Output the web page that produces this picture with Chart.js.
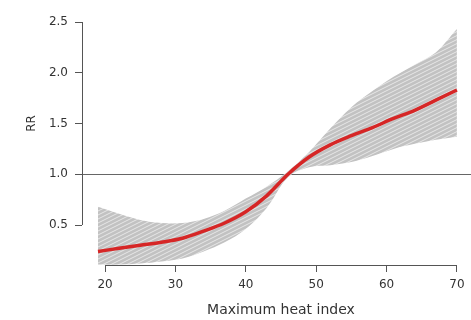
<!DOCTYPE html>
<html>
<head>
<meta charset="utf-8">
<script src="https://cdn.jsdelivr.net/npm/chart.js@4"></script>
<style>
html,body{margin:0;padding:0;background:#fff;}
#wrap{width:471px;height:320px;position:relative;}
</style>
</head>
<body>
<div id="wrap"><canvas id="c" width="471" height="320"></canvas></div>
<script>
// ---- data ----
const heatIndex = [19,22,25,28,31,34,37,40,43,46,49,52,55,58,61,64,67,70];
const rr        = [0.24,0.27,0.30,0.33,0.37,0.44,0.52,0.63,0.79,1.00,1.17,1.29,1.38,1.46,1.55,1.63,1.73,1.83];
const rrUpper   = [0.68,0.61,0.55,0.52,0.52,0.56,0.64,0.76,0.88,1.03,1.22,1.45,1.66,1.82,1.96,2.08,2.20,2.43];
const rrLower   = [0.11,0.11,0.12,0.14,0.17,0.24,0.33,0.46,0.67,0.97,1.07,1.09,1.12,1.18,1.25,1.30,1.34,1.37];
const xTicks = [20,30,40,50,60,70];
const xTickLabels = ['20','30','40','50','60','70'];
const yTicks = [0.5,1.0,1.5,2.0,2.5];
const yTickLabels = ['0.5','1.0','1.5','2.0','2.5'];
const refLine = 1.0;
const xTitle = 'Maximum heat index';
const yTitle = 'RR';

// ---- styles ----
const AX = '#555';
const TXT = '#333';
const FONT = 'DejaVu Sans';

function hatch(){
  const p = document.createElement('canvas');
  p.width = 8; p.height = 4;
  const g = p.getContext('2d');
  g.fillStyle = '#c2c2c2';
  g.fillRect(0,0,8,4);
  g.strokeStyle = 'rgba(255,255,255,0.75)';
  g.lineWidth = 0.8;
  g.beginPath();
  g.moveTo(-8,8); g.lineTo(8,0);
  g.moveTo(0,8); g.lineTo(16,0);
  g.moveTo(-8,4); g.lineTo(8,-4);
  g.stroke();
  return g.createPattern(p,'repeat');
}
const ctx = document.getElementById('c').getContext('2d');
const pat = hatch();

const pts = arr => heatIndex.map((x,i)=>({x:x,y:arr[i]}));

const axesPlugin = {
  id:'rAxes',
  beforeDatasetsDraw(chart){
    const c = chart.ctx, a = chart.chartArea, ys = chart.scales.y;
    c.save();
    c.strokeStyle = '#666'; c.lineWidth = 1;
    const y = Math.round(ys.getPixelForValue(refLine))+0.5;
    c.beginPath(); c.moveTo(a.left,y); c.lineTo(a.right,y); c.stroke();
    c.restore();
  },
  afterDraw(chart){
    const c = chart.ctx, a = chart.chartArea, xs = chart.scales.x, ys = chart.scales.y;
    c.save();
    c.strokeStyle = AX; c.lineWidth = 1;
    const by = Math.round(a.bottom)+0.5;
    c.beginPath();
    c.moveTo(xs.getPixelForValue(xTicks[0]),by);
    c.lineTo(xs.getPixelForValue(xTicks[xTicks.length-1]),by);
    c.stroke();
    const lx = Math.round(a.left)+0.5;
    c.beginPath();
    c.moveTo(lx,ys.getPixelForValue(yTicks[0]));
    c.lineTo(lx,ys.getPixelForValue(yTicks[yTicks.length-1]));
    c.stroke();
    // titles
    c.fillStyle = TXT;
    c.textAlign = 'center'; c.textBaseline = 'middle';
    c.font = '14px "' + FONT + '"';
    const xm = (xs.getPixelForValue(xTicks[0]) + xs.getPixelForValue(xTicks[xTicks.length-1]))/2;
    c.fillText(xTitle, xm, 310);
    c.font = '12px "' + FONT + '"';
    const ym = (ys.getPixelForValue(yTicks[0]) + ys.getPixelForValue(yTicks[yTicks.length-1]))/2;
    c.translate(32, ym); c.rotate(-Math.PI/2);
    c.fillText(yTitle, 0, 0);
    c.restore();
  }
};

new Chart(ctx,{
  type:'line',
  data:{
    datasets:[
      {data:pts(rr), borderColor:'rgb(214,38,38)', borderWidth:3.5, pointRadius:0, fill:false, cubicInterpolationMode:'monotone', order:0},
      {data:pts(rrUpper), borderWidth:0, borderColor:'rgba(0,0,0,0)', pointRadius:0, fill:'+1', backgroundColor:pat, tension:0.35, order:1},
      {data:pts(rrLower), borderWidth:0, borderColor:'rgba(0,0,0,0)', pointRadius:0, fill:false, tension:0.35, order:2}
    ]
  },
  options:{
    responsive:false, animation:false, events:[],
    layout:{padding:{top:8,right:0,left:0,bottom:0}},
    plugins:{legend:{display:false}, tooltip:{enabled:false}},
    scales:{
      x:{
        type:'linear', min:16.73, max:72,
        afterBuildTicks(s){ s.ticks = xTicks.map(v=>({value:v})); },
        afterFit(s){ s.height = 55; },
        border:{display:false},
        grid:{drawOnChartArea:false, drawTicks:true, tickLength:7, color:AX},
        ticks:{callback:(v,i)=>xTickLabels[i], color:TXT, font:{family:FONT,size:12}, padding:6, maxRotation:0, autoSkip:false}
      },
      y:{
        type:'linear', min:0.106, max:2.577,
        afterBuildTicks(s){ s.ticks = yTicks.map(v=>({value:v})); },
        afterFit(s){ s.width = 82; },
        border:{display:false},
        grid:{drawOnChartArea:false, drawTicks:true, tickLength:7, color:AX},
        ticks:{callback:(v,i)=>yTickLabels[i], color:TXT, font:{family:FONT,size:12}, padding:7, autoSkip:false}
      }
    }
  },
  plugins:[axesPlugin]
});
</script>
</body>
</html>
